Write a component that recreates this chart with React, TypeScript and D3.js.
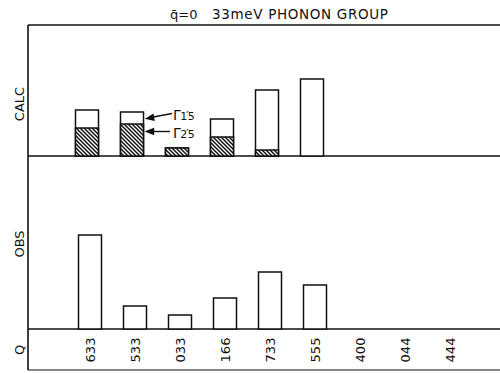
import React from "react";
import * as d3 from "d3";

const categories = ["633", "533", "033", "166", "733", "555", "400", "044", "444"];
// CALC: Γ2'5 (hatched, lower) and Γ1'5 (open, upper) contributions
const calcG25 = [28, 32, 8, 19, 6, 0, 0, 0, 0];
const calcG15 = [18, 12, 0, 18, 60, 77, 0, 0, 0];
// OBS intensities
const obsValues = [94, 23, 14, 31, 57, 44, 0, 0, 0];

const W = 500;
const H = 373;
const left = 28;
const top = 25;
const calcBase = 156;
const obsBase = 329;
const bottom = 370;

export default function App() {
  const x = d3.scalePoint<string>().domain(categories).range([90, 450]);
  const yCalc = d3.scaleLinear().domain([0, 130]).range([calcBase, calcBase - 130]);
  const yObs = d3.scaleLinear().domain([0, 173]).range([obsBase, obsBase - 173]);
  const bw = 23;
  const font = "DejaVu Sans, sans-serif";

  return (
    <svg width={W} height={H} style={{ position: "absolute", left: 0, top: 0, background: "#fff" }}>
      <defs>
        <pattern id="hatch" patternUnits="userSpaceOnUse" width={4} height={4}>
          <rect width={4} height={4} fill="#fff" />
          <path d="M0,0 L4,4 M-1,3 L1,5 M3,-1 L5,1" stroke="#111" strokeWidth={1.5} />
        </pattern>
      </defs>
      <rect width={W} height={H} fill="#fff" />

      {/* title */}
      <text x={170} y={19} fontFamily={font} fontSize={13} fill="#111">q̄=0</text>
      <text x={212} y={19} fontFamily={font} fontSize={13.5} fill="#111" textLength={176} lengthAdjust="spacing">33meV PHONON GROUP</text>

      {/* frame */}
      <g stroke="#111" strokeWidth={1.6} fill="none">
        <line x1={left} y1={top} x2={W} y2={top} />
        <line x1={left} y1={top} x2={left} y2={bottom} />
        <line x1={left} y1={calcBase} x2={W} y2={calcBase} />
        <line x1={left} y1={obsBase} x2={W} y2={obsBase} />
        <line x1={left} y1={bottom} x2={W} y2={bottom} strokeWidth={1.2} />
      </g>

      {/* panel labels */}
      <text transform={`translate(19,${104}) rotate(-90)`} textAnchor="middle" dominantBaseline="central" fontFamily={font} fontSize={13} fill="#111">CALC</text>
      <text transform={`translate(19,${244}) rotate(-90)`} textAnchor="middle" dominantBaseline="central" fontFamily={font} fontSize={13} fill="#111">OBS</text>
      <text transform={`translate(19,${350}) rotate(-90)`} textAnchor="middle" dominantBaseline="central" fontFamily={font} fontSize={13} fill="#111">Q</text>

      {/* CALC bars */}
      <g stroke="#111" strokeWidth={1.5}>
        {categories.map((c, i) => {
          const total = calcG25[i] + calcG15[i];
          if (total <= 0) return null;
          const cx = (x(c) as number) - 3;
          return (
            <g key={c}>
              <rect x={cx - bw / 2} y={yCalc(total)} width={bw} height={calcBase - yCalc(total)} fill="#fff" />
              {calcG25[i] > 0 && (
                <rect x={cx - bw / 2} y={yCalc(calcG25[i])} width={bw} height={calcBase - yCalc(calcG25[i])} fill="url(#hatch)" />
              )}
            </g>
          );
        })}
      </g>

      {/* annotations */}
      <g stroke="#111" strokeWidth={1.4} fill="#111">
        <line x1={172} y1={113.5} x2={152} y2={117.3} />
        <path d="M146.5,118.5 L153,114.6 L154,120 Z" />
        <line x1={170} y1={131.5} x2={152} y2={131.5} />
        <path d="M146.5,131.5 L153.5,128.8 L153.5,134.2 Z" />
      </g>
      <text x={173} y={119.5} fontFamily={font} fontSize={14} fill="#111">
        Γ<tspan fontSize={11} dx={-0.5}>1</tspan><tspan fontSize={11} dx={-1} dy={-1}>′</tspan><tspan fontSize={11} dx={-1} dy={1}>5</tspan>
      </text>
      <text x={173} y={137.5} fontFamily={font} fontSize={14} fill="#111">
        Γ<tspan fontSize={11} dx={-0.5}>2</tspan><tspan fontSize={11} dx={-1} dy={-1}>′</tspan><tspan fontSize={11} dx={-1} dy={1}>5</tspan>
      </text>

      {/* OBS bars */}
      <g stroke="#111" strokeWidth={1.5} fill="#fff">
        {categories.map((c, i) => {
          if (obsValues[i] <= 0) return null;
          const cx = (x(c) as number) + 0;
          return <rect key={c} x={cx - bw / 2} y={yObs(obsValues[i])} width={bw} height={obsBase - yObs(obsValues[i])} />;
        })}
      </g>

      {/* Q tick labels */}
      {categories.map((c) => (
        <text
          key={c}
          transform={`translate(${x(c)},350) rotate(-90)`}
          textAnchor="middle"
          dominantBaseline="central"
          fontFamily={font}
          fontSize={13}
          fill="#111"
        >
          {c}
        </text>
      ))}
    </svg>
  );
}
